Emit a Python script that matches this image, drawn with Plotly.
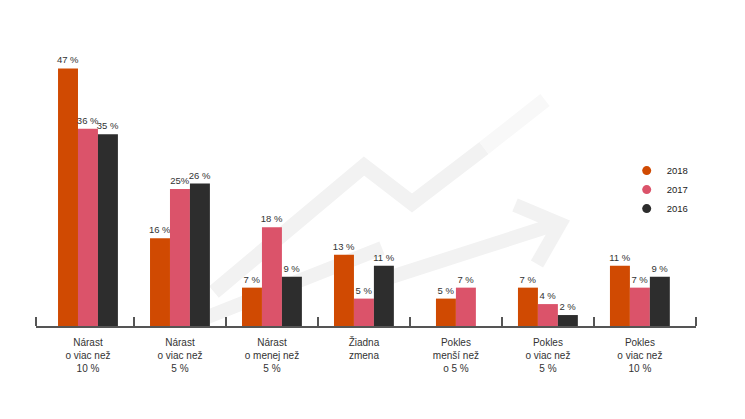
import plotly.graph_objects as go

categories = ["Nárast<br>o viac než<br>10 %", "Nárast<br>o viac než<br>5 %", "Nárast<br>o menej než<br>5 %",
              "Žiadna<br>zmena", "Pokles<br>menší než<br>o 5 %", "Pokles<br>o viac než<br>5 %", "Pokles<br>o viac než<br>10 %"]
years = ["2018", "2017", "2016"]
v2018 = [47, 16, 7, 13, 5, 7, 11]
v2017 = [36, 25, 18, 5, 7, 4, 7]
v2016 = [35, 26, 9, 11, None, 2, 9]
t2018 = ["47 %", "16 %", "7 %", "13 %", "5 %", "7 %", "11 %"]
t2017 = ["36 %", "25%", "18 %", "5 %", "7 %", "4 %", "7 %"]
t2016 = ["35 %", "26 %", "9 %", "11 %", "", "2 %", "9 %"]

colors = ["#D04A02", "#DB536A", "#2D2D2D"]
series = [v2018, v2017, v2016]
texts = [t2018, t2017, t2016]

bw = 0.217
x = list(range(len(categories)))

fig = go.Figure()

# faint decorative background arrows (pixel -> paper conversion)
L, R, T, B = 36, 696, 52, 326
def px(pts):
    out = []
    for i, (a, b) in enumerate(pts):
        out.append(("M" if i == 0 else "L") + f"{(a - L) / (R - L):.4f},{(B - b) / (B - T):.4f}")
    return " ".join(out)

deco = "#f2f2f2"
fig.add_shape(type="path", xref="paper", yref="paper", layer="below",
              path=px([(214, 292), (364, 166), (412, 203), (484, 148)]),
              line=dict(color=deco, width=15))
fig.add_shape(type="path", xref="paper", yref="paper", layer="below",
              path=px([(484, 148), (545, 100)]),
              line=dict(color="#f8f8f8", width=15))
fig.add_shape(type="path", xref="paper", yref="paper", layer="below",
              path=px([(205, 318), (382, 248)]),
              line=dict(color=deco, width=14))
fig.add_shape(type="path", xref="paper", yref="paper", layer="below",
              path=px([(388, 278), (556, 224)]),
              line=dict(color=deco, width=14))
fig.add_shape(type="path", xref="paper", yref="paper", layer="below",
              path=px([(515, 205), (560, 224), (537, 264)]),
              line=dict(color=deco, width=14))

for k, (vals, txt, col) in enumerate(zip(series, texts, colors)):
    offs = []
    for i in range(len(categories)):
        n = sum(1 for s in series if s[i] is not None)
        idx = sum(1 for s in series[:k] if s[i] is not None)
        offs.append(-n * bw / 2 + idx * bw)
    fig.add_trace(go.Bar(
        x=x, y=vals, text=txt, textposition="outside", cliponaxis=False,
        constraintext="none",
        textfont=dict(size=9.5, color="#333333"),
        marker=dict(color=col, line=dict(width=0)),
        width=bw, offset=offs, showlegend=False, name=years[k]))

for k, col in enumerate(colors):
    fig.add_trace(go.Scatter(x=[None], y=[None], mode="markers", name=years[k],
                             marker=dict(color=col, size=9, symbol="circle")))

fig.update_layout(
    width=745, height=419,
    margin=dict(l=L, r=745 - R, t=T, b=419 - B),
    paper_bgcolor="#ffffff", plot_bgcolor="rgba(0,0,0,0)",
    font=dict(family="Arial, Liberation Sans, sans-serif", size=10, color="#333333"),
    barmode="overlay",
    legend=dict(x=0.895, y=0.62, xanchor="left", yanchor="top", traceorder="normal",
                font=dict(size=9.5, color="#222222"), itemwidth=30,
                bgcolor="rgba(0,0,0,0)"),
    xaxis=dict(range=[-0.565, 6.61], tickvals=x, ticktext=categories, ticks="",
               showline=True, linecolor="#555555", linewidth=1.5, showgrid=False, zeroline=False,
               tickfont=dict(size=10, color="#333333"), ticklabelstandoff=6,
               minor=dict(tickvals=[-0.565, 0.5, 1.5, 2.5, 3.5, 4.5, 5.5, 6.61], ticks="inside",
                          ticklen=9, tickwidth=1.5, tickcolor="#555555", showgrid=False)),
    yaxis=dict(range=[0, 50], visible=False, showgrid=False, zeroline=False),
)

fig.write_html("out.html")
